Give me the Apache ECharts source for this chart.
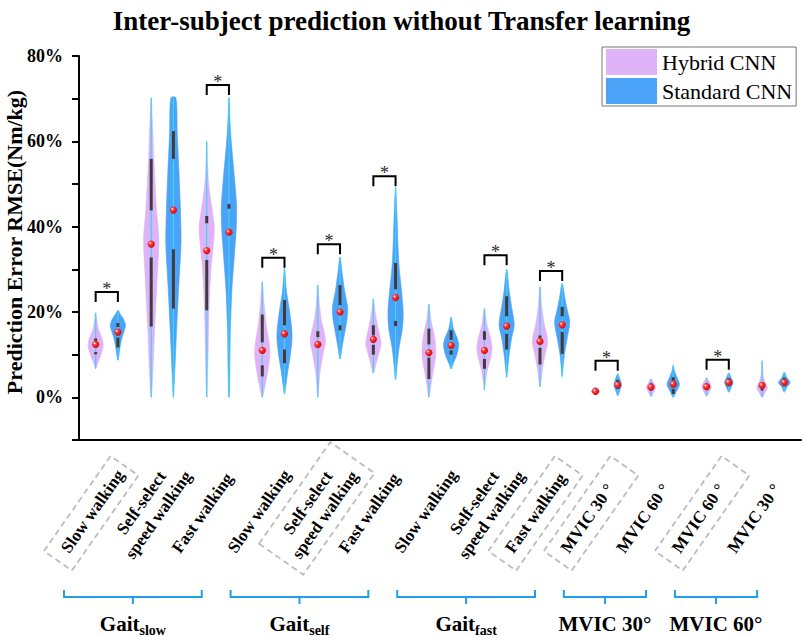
<!DOCTYPE html>
<html>
<head>
<meta charset="utf-8">
<script src="https://cdn.jsdelivr.net/npm/echarts@6/dist/echarts.min.js"></script>
<style>html,body{margin:0;padding:0;background:#fff}#c{width:803px;height:637px}</style>
</head>
<body>
<div id="c"></div>
<script>
// ---------------- data ----------------
const categories = ['Slow walking', 'Self-select\nspeed walking', 'Fast walking',
  'Slow walking', 'Self-select\nspeed walking', 'Fast walking',
  'Slow walking', 'Self-select\nspeed walking', 'Fast walking',
  'MVIC 30 °', 'MVIC 60 °', 'MVIC 60 °', 'MVIC 30 °'];
const boxedCategories = [0, 4, 8, 9, 11];
const seriesNames = ['Hybrid CNN', 'Standard CNN'];
const yTickValues = [0, 20, 40, 60, 80];

// violin outlines: [value (%), relative density]
const hybridShape = [
  [[6.7,0],[8,0.25],[10,0.7],[12.2,1.0],[14,0.8],[16,0.35],[18,0.15],[19.8,0]],
  [[0,0],[5,0.2],[16,0.45],[28,0.78],[37,1.0],[44,0.7],[56,0.35],[65,0.15],[70.2,0]],
  [[0,0],[10,0.18],[20,0.28],[30,0.55],[37,0.92],[40,1.0],[44,0.7],[50,0.25],[55,0.1],[60,0]],
  [[0,0],[3,0.4],[6,0.72],[10,1.0],[13,0.88],[17,0.52],[22,0.23],[27.1,0]],
  [[0,0],[3,0.15],[6,0.29],[10,0.67],[13,1.0],[15,0.87],[18,0.47],[22,0.2],[26.3,0]],
  [[5.7,0],[8,0.36],[10,0.67],[12.5,1.0],[14,0.9],[17,0.53],[20,0.23],[23.1,0]],
  [[0,0],[3,0.27],[6,0.56],[9,0.85],[11,0.9],[14,0.76],[18,0.29],[21.8,0]],
  [[1.7,0],[3,0.1],[6,0.33],[9,0.78],[11.5,1.0],[14,0.78],[17,0.33],[20.8,0]],
  [[2.4,0],[4,0.15],[7,0.36],[10,0.67],[13.3,1.0],[17,0.58],[21,0.24],[25.9,0]],
  [[0.6,0],[1.0,0.35],[1.4,0.6],[1.9,0.4],[2.4,0]],
  [[0.2,0],[1.2,0.35],[2.4,0.6],[3.4,0.35],[4.3,0]],
  [[0.3,0],[1.4,0.4],[2.5,0.63],[3.6,0.35],[4.6,0]],
  [[0,0],[1,0.35],[2.3,0.7],[3.5,0.4],[5,0.15],[7,0.06],[8.6,0]]
];
const standardShape = [
  [[8.7,0],[10,0.15],[12,0.3],[14,0.55],[16,0.9],[17,1.0],[18.5,0.7],[19.5,0.3],[20.4,0]],
  [[0,0],[5,0.15],[15,0.4],[26,0.7],[36,1.0],[42,0.95],[50,0.8],[62,0.5],[70.2,0.33]],
  [[0,0],[5,0.1],[15,0.18],[25,0.38],[33,0.7],[40,0.97],[45,1.0],[52,0.7],[60,0.3],[66,0.1],[70.2,0]],
  [[0.8,0],[3,0.2],[6,0.42],[10,0.78],[14,1.0],[17,0.9],[21,0.6],[25,0.25],[30.2,0]],
  [[9,0],[12,0.29],[15,0.6],[18,0.9],[21,1.0],[25,0.6],[29,0.29],[32.9,0]],
  [[4.1,0],[8,0.22],[12,0.49],[16,0.89],[20,1.0],[25,0.78],[30,0.49],[35,0.33],[42,0.2],[49.2,0]],
  [[6.7,0],[8,0.3],[10,0.75],[12.2,1.0],[14,0.78],[16,0.31],[18.8,0]],
  [[4.7,0],[7,0.15],[10,0.33],[14,0.67],[17,1.0],[21,0.67],[25,0.33],[30,0]],
  [[4.9,0],[7,0.12],[10,0.29],[14,0.67],[17.6,1.0],[20,0.73],[23,0.38],[26.7,0]],
  [[0.4,0],[1.5,0.25],[3,0.5],[4.2,0.3],[5.5,0]],
  [[0,0],[1.2,0.35],[3,0.82],[4.8,0.45],[6.3,0.15],[7.5,0]],
  [[1.2,0],[2.3,0.3],[3.5,0.56],[4.6,0.3],[5.7,0]],
  [[1.2,0],[2.3,0.3],[3.5,0.76],[4.7,0.3],[5.9,0]]
];

// inner statistics (%)
const hybridWhiskLow  = [10.1, 16.6, 20.4, 4.9, 11.8, 10.0, 4.3, 6.7, 7.7, 1.3, 1.6, 1.7, 1.6];
const hybridQ1        = [10.6, 32.8, 32.2, 7.5, 11.8, 12.3, 9.3, 9.0, 11.6, 1.3, 2.0, 2.1, 2.1];
const hybridMean      = [12.4, 35.9, 34.4, 11.0, 12.4, 13.6, 10.5, 11.0, 13.1, 1.4, 2.4, 2.5, 2.8];
const hybridQ3        = [13.0, 43.8, 40.8, 12.9, 14.1, 14.5, 12.4, 13.5, 13.9, 1.5, 2.8, 2.9, 3.1];
const hybridWhiskHigh = [13.8, 55.9, 42.5, 19.4, 15.5, 16.9, 16.1, 15.5, 14.5, 1.5, 3.3, 3.3, 3.4];

const standardWhiskLow  = [11.7, 20.8, 37.0, 8.0, 15.7, 16.7, 10.0, 11.2, 10.2, 2.0, 0.8, 2.6, 2.6];
const standardQ1        = [14.0, 34.7, 37.0, 11.2, 16.9, 17.9, 11.0, 14.9, 15.3, 2.5, 2.0, 3.0, 3.0];
const standardMean      = [15.3, 43.9, 38.7, 14.9, 20.0, 23.4, 12.2, 16.7, 17.0, 2.9, 3.1, 3.5, 3.5];
const standardQ3        = [16.5, 55.9, 44.2, 16.9, 21.6, 25.3, 13.5, 19.0, 19.0, 3.3, 3.9, 4.0, 4.0];
const standardWhiskHigh = [17.4, 62.4, 45.3, 22.8, 26.3, 31.5, 15.7, 23.7, 21.2, 4.1, 4.7, 4.5, 4.6];

// significance brackets: category index and bracket level (%)
const sigCats  = [0, 2, 3, 4, 5, 7, 8, 9, 11];
const sigLevel = [24.7, 73.2, 32.7, 35.9, 51.8, 33.3, 29.6, 8.6, 8.8];

// condition groups
const groupStart = [0, 3, 6, 9, 11];
const groupEnd   = [2, 5, 8, 10, 12];
const groupName  = ['Gait', 'Gait', 'Gait', 'MVIC 30°', 'MVIC 60°'];
const groupSub   = ['slow', 'self', 'fast', '', ''];

// ---------------- style ----------------
const FONT = 'Liberation Serif';
const PINK = '#DEB3F7';
const BLUE = '#4AA3F6';
const CYAN = '#3FD2F8';
const DARK = '#3d3d3d';
const GROUP_BLUE = '#1E9FE6';
const PAIR_OFFSET = 0.2;
const HALF_WIDTH = 0.137;
const LABEL_ANGLE = 55 * Math.PI / 180;

const dotFill = new echarts.graphic.RadialGradient(0.35, 0.35, 0.75, [
  {offset: 0, color: '#ffffff'},
  {offset: 0.3, color: '#ff3a3a'},
  {offset: 1, color: '#c80000'}
]);

function makeViolin(name, color, shapes, wl, q1, mean, q3, wh, side) {
  return {
    name: name,
    type: 'custom',
    coordinateSystem: 'cartesian2d',
    itemStyle: {color: color},
    data: shapes.map((s, i) => [i, s[0][0], s[s.length - 1][0]]),
    encode: {x: 0, y: [1, 2]},
    z: 2,
    renderItem: function (params, api) {
      const i = params.dataIndex;
      const cat = api.value(0);
      const band = api.size([1, 0])[0];
      const cx = api.coord([cat, 0])[0] + side * band * PAIR_OFFSET;
      const half = band * HALF_WIDTH;
      const Y = v => api.coord([cat, v])[1];
      const knots = shapes[i];
      const n = knots.length;
      const pts = [];
      for (let k = 0; k < n; k++) {
        const v = knots[k][0], w = knots[k][1];
        if (w === 0 && (k === 0 || k === n - 1)) pts.push([cx, Y(v)]);
        else pts.push([cx - w * half, Y(v)]);
      }
      for (let k = n - 1; k >= 0; k--) {
        const v = knots[k][0], w = knots[k][1];
        if (w === 0 && (k === 0 || k === n - 1)) continue;
        pts.push([cx + w * half, Y(v)]);
      }
      const vMin = knots[0][0], vMax = knots[n - 1][0];
      const children = [
        {type: 'polygon', shape: {points: pts, smooth: 0.3},
          style: {fill: color, stroke: color, lineWidth: 0.6}},
        {type: 'line', shape: {x1: cx, y1: Y(vMin), x2: cx, y2: Y(vMax)},
          style: {stroke: CYAN, lineWidth: 1.2}}
      ];
      [[wl[i], q1[i]], [q3[i], wh[i]]].forEach(sg => {
        const y1 = Y(sg[0]), y2 = Y(sg[1]);
        if (Math.abs(y1 - y2) > 0.8) {
          children.push({type: 'line', shape: {x1: cx, y1: y1, x2: cx, y2: y2},
            style: {stroke: DARK, lineWidth: 3}});
        }
      });
      children.push({type: 'circle', shape: {cx: cx, cy: Y(mean[i]), r: 3.6},
        style: {fill: dotFill}});
      return {type: 'group', children: children};
    }
  };
}

const sigSeries = {
  type: 'custom',
  silent: true,
  z: 5,
  data: sigCats.map((c, k) => [c, sigLevel[k]]),
  encode: {x: 0, y: 1},
  renderItem: function (params, api) {
    const c = api.value(0);
    const band = api.size([1, 0])[0];
    const x0 = api.coord([c, 0])[0];
    const xl = x0 - band * PAIR_OFFSET, xr = x0 + band * PAIR_OFFSET;
    const yt = api.coord([c, api.value(1)])[1];
    return {type: 'group', children: [
      {type: 'polyline', shape: {points: [[xl, yt + 10], [xl, yt], [xr, yt], [xr, yt + 10]]},
        style: {stroke: '#000', lineWidth: 2, fill: null}},
      {type: 'text', style: {text: '*', x: (xl + xr) / 2, y: yt - 3, align: 'center',
        verticalAlign: 'middle', fontFamily: FONT, fontSize: 18, fill: '#2a2a2a'}}
    ]};
  }
};

// rotated category labels below the axis
const labelSeries = {
  type: 'custom',
  silent: true,
  data: categories.map((c, i) => [i, 0]),
  encode: {x: 0, y: 1},
  renderItem: function (params, api) {
    const i = params.dataIndex;
    const cs = params.coordSys;
    const base = cs.y + cs.height;
    const cx = api.coord([api.value(0), 0])[0];
    const label = categories[i];
    const twoLine = label.indexOf('\n') >= 0;
    const children = [];
    if (boxedCategories.indexOf(i) >= 0) {
      const r = twoLine ? {x: -10, y: -27, width: 124, height: 54} : {x: -12, y: -17, width: 116, height: 34};
      children.push({type: 'rect', shape: r,
        style: {fill: null, stroke: '#bcbcbc', lineWidth: 1.8, lineDash: [6, 4]}});
    }
    const txt = twoLine ? label.split('\n').map(l => '{c|' + l + '}').join('\n') : label;
    children.push({type: 'text', style: {
      text: txt, x: 0, y: 0, align: 'left', verticalAlign: 'middle',
      fontFamily: FONT, fontWeight: 'bold', fontSize: 17, fill: '#000',
      rich: {c: {width: 103, align: 'center', lineHeight: 21, fontFamily: FONT,
        fontWeight: 'bold', fontSize: 17, fill: '#000'}}
    }});
    return {type: 'group', x: cx - 42, y: base + 111, rotation: LABEL_ANGLE, children: children};
  }
};

const groupSeries = {
  type: 'custom',
  silent: true,
  data: groupStart.map((s, k) => [s, groupEnd[k], 0]),
  encode: {x: [0, 1], y: 2},
  renderItem: function (params, api) {
    const k = params.dataIndex;
    const cs = params.coordSys;
    const base = cs.y + cs.height;
    const band = api.size([1, 0])[0];
    const x0 = api.coord([api.value(0), 0])[0] - band * 0.77;
    const x1 = api.coord([api.value(1), 0])[0] - band * 0.29;
    const xm = (x0 + x1) / 2;
    const yh = base + 157;
    const txt = groupSub[k] ? '{a|' + groupName[k] + '}{s|' + groupSub[k] + '}' : '{a|' + groupName[k] + '}';
    return {type: 'group', children: [
      {type: 'polyline', shape: {points: [[x0, yh - 7], [x0, yh], [x1, yh], [x1, yh - 7]]},
        style: {stroke: GROUP_BLUE, lineWidth: 2, fill: null}},
      {type: 'line', shape: {x1: xm, y1: yh, x2: xm, y2: yh + 7},
        style: {stroke: GROUP_BLUE, lineWidth: 2}},
      {type: 'text', style: {text: txt, x: xm, y: base + 184, align: 'center', verticalAlign: 'middle',
        fill: '#000',
        rich: {
          a: {fontFamily: FONT, fontWeight: 'bold', fontSize: 21, fill: '#000'},
          s: {fontFamily: FONT, fontWeight: 'bold', fontSize: 14, fill: '#000', padding: [12, 0, 0, 0]}
        }}}
    ]};
  }
};

const chart = echarts.init(document.getElementById('c'), null, {renderer: 'svg'});
chart.setOption({
  backgroundColor: '#fff',
  animation: false,
  title: {
    text: 'Inter-subject prediction without Transfer learning',
    left: 'center', top: 2,
    textStyle: {fontFamily: FONT, fontWeight: 'bold', fontSize: 27, color: '#000'}
  },
  legend: {
    data: seriesNames,
    orient: 'vertical',
    left: 602, top: 47,
    icon: 'rect',
    itemWidth: 51, itemHeight: 26, itemGap: 3,
    padding: [2, 4, 2, 4],
    borderColor: '#777', borderWidth: 1,
    textStyle: {fontFamily: FONT, fontSize: 22, color: '#000'}
  },
  grid: {left: 79, right: 2, top: 56, bottom: 197, containLabel: false, outerBoundsMode: 'none'},
  xAxis: {
    type: 'category',
    data: categories,
    boundaryGap: true,
    axisLine: {onZero: false, lineStyle: {color: '#000', width: 2}},
    axisTick: {show: false},
    splitLine: {show: false},
    axisLabel: {show: false}
  },
  yAxis: {
    type: 'value', min: -10, max: 80, interval: 10,
    name: 'Prediction Error RMSE(Nm/kg)', nameLocation: 'middle', nameGap: 54,
    nameMoveOverlap: false,
    nameTextStyle: {fontFamily: FONT, fontWeight: 'bold', fontSize: 22, color: '#000', padding: [0, 0, 0, 12]},
    axisLine: {show: true, lineStyle: {color: '#000', width: 2}},
    axisTick: {show: true, inside: false, length: 7, lineStyle: {color: '#000', width: 2}},
    splitLine: {show: false},
    axisLabel: {
      margin: 16, fontFamily: FONT, fontWeight: 'bold', fontSize: 18, color: '#000',
      formatter: v => yTickValues.indexOf(v) >= 0 ? v + '%' : ''
    }
  },
  series: [
    makeViolin(seriesNames[0], PINK, hybridShape, hybridWhiskLow, hybridQ1, hybridMean, hybridQ3, hybridWhiskHigh, -1),
    makeViolin(seriesNames[1], BLUE, standardShape, standardWhiskLow, standardQ1, standardMean, standardQ3, standardWhiskHigh, 1),
    sigSeries,
    labelSeries,
    groupSeries
  ]
});
</script>
</body>
</html>
